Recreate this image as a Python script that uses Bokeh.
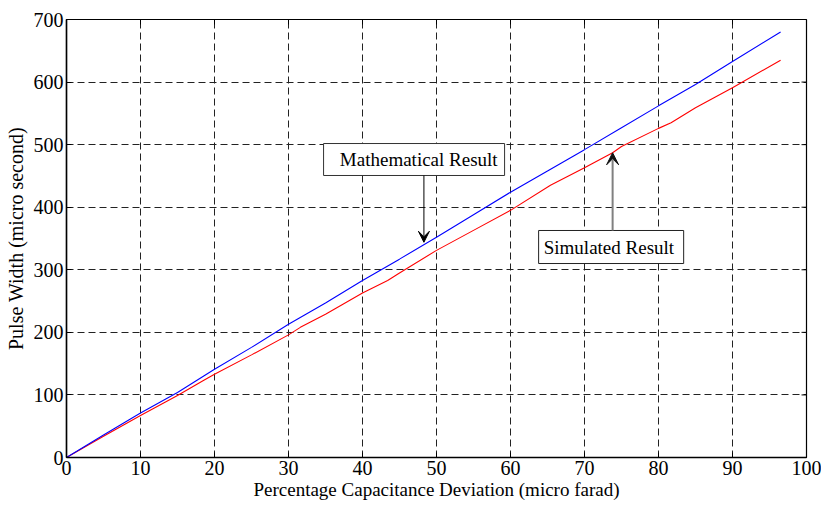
import math
from bokeh.plotting import figure
from bokeh.models import (Label, Arrow, VeeHead, FixedTicker, Range1d, BoxAnnotation)
from bokeh.embed import file_html
from bokeh.resources import INLINE

# ---- data ----
math_x = [0, 5, 10, 15, 20, 25, 30, 35, 40, 45, 50, 55, 60, 65, 70, 75, 80, 85, 90, 96.5]
math_y = [0, 36, 71, 104, 141, 176, 213, 247, 283, 317, 352, 388, 424, 458, 492, 527, 562, 596, 633, 680]

sim_x = [0, 5, 10, 15, 18.5, 20, 25, 30, 31.6, 35, 40, 43.4, 45, 50, 55, 60, 65.4, 70, 73.8, 75, 80, 81.7, 85, 90, 96.5]
sim_y = [0, 34, 67, 99, 123, 133, 164, 196, 208, 229, 263, 283, 295, 331, 363, 395, 435, 463, 487, 497, 526, 535, 559, 591, 635]

x_ticks = [0, 10, 20, 30, 40, 50, 60, 70, 80, 90, 100]
y_ticks = [0, 100, 200, 300, 400, 500, 600, 700]

x_title = "Percentage Capacitance Deviation (micro farad)"
y_title = "Pulse Width (micro second)"
math_label = "Mathematical Result"
sim_label = "Simulated Result"

FONT = "Liberation Serif"
X0, X1, Y0, Y1 = 0, 100, 0, 700

p = figure(width=821, height=506, output_backend="svg", toolbar_location=None,
           x_range=Range1d(X0, X1), y_range=Range1d(Y0, Y1),
           min_border_left=66, min_border_right=15, min_border_top=19, min_border_bottom=49)

p.background_fill_color = "white"
p.border_fill_color = "white"
p.outline_line_color = "black"
p.outline_line_width = 1.2

# axes
for ax in (p.xaxis[0], p.yaxis[0]):
    ax.major_label_text_font = FONT
    ax.major_label_text_font_size = "20px"
    ax.major_label_text_color = "black"
    ax.axis_line_color = "black"
    ax.axis_line_width = 1.5
    ax.major_tick_in = 5
    ax.major_tick_out = 0
    ax.minor_tick_line_color = None
    ax.major_tick_line_color = "black"
    ax.major_label_standoff = 3
    ax.axis_label_text_font = FONT
    ax.axis_label_text_font_style = "normal"
    ax.axis_label_text_color = "black"
p.xaxis[0].ticker = FixedTicker(ticks=x_ticks)
p.yaxis[0].ticker = FixedTicker(ticks=y_ticks)
p.xaxis[0].axis_label = x_title
p.yaxis[0].axis_label = y_title
p.xaxis[0].axis_label_text_font_size = "19px"
p.yaxis[0].axis_label_text_font_size = "20px"
p.xaxis[0].axis_label_standoff = 1
p.yaxis[0].axis_label_standoff = 4

# tick marks on top and right edges (MATLAB box style)
tick_dy = (Y1 - Y0) * 5 / 438
tick_dx = (X1 - X0) * 5 / 740
p.segment(x0=x_ticks, y0=[Y1] * len(x_ticks), x1=x_ticks, y1=[Y1 - tick_dy] * len(x_ticks),
          line_color="black", line_width=1)
p.segment(x0=[X1] * len(y_ticks), y0=y_ticks, x1=[X1 - tick_dx] * len(y_ticks), y1=y_ticks,
          line_color="black", line_width=1)

# grid
for g in (p.xgrid[0], p.ygrid[0]):
    g.grid_line_color = "#222222"
    g.grid_line_dash = "7 4"
    g.grid_line_width = 1
p.xgrid[0].ticker = FixedTicker(ticks=x_ticks)
p.ygrid[0].ticker = FixedTicker(ticks=y_ticks)

# lines
p.line(sim_x, sim_y, line_color="#ff0000", line_width=1.1)
p.line(math_x, math_y, line_color="#0000ff", line_width=1.1)

# annotation boxes
p.add_layout(BoxAnnotation(left=34.74, right=59.2, bottom=450.7, top=501.8,
                           fill_color="white", fill_alpha=1, line_color="#333333",
                           line_alpha=1, line_width=1))
p.add_layout(BoxAnnotation(left=63.8, right=83.4, bottom=310.0, top=362.8,
                           fill_color="white", fill_alpha=1, line_color="#222222",
                           line_alpha=1, line_width=1))

p.add_layout(Label(x=47.6, y=476.3, text=math_label, text_font=FONT, text_font_size="19px",
                   text_align="center", text_baseline="middle", text_color="black"))
p.add_layout(Label(x=73.3, y=336.4, text=sim_label, text_font=FONT, text_font_size="19px",
                   text_align="center", text_baseline="middle", text_color="black"))

# arrows
p.add_layout(Arrow(end=VeeHead(size=11, fill_color="black", line_color="black"),
                   x_start=48.3, y_start=450.7, x_end=48.3, y_end=344,
                   line_color="black", line_width=1))
p.add_layout(Arrow(end=VeeHead(size=12, fill_color="#111111", line_color="#111111"),
                   x_start=73.8, y_start=362.8, x_end=73.8, y_end=487,
                   line_color="#808080", line_width=2))

open("out.html", "w").write(file_html(p, INLINE))
